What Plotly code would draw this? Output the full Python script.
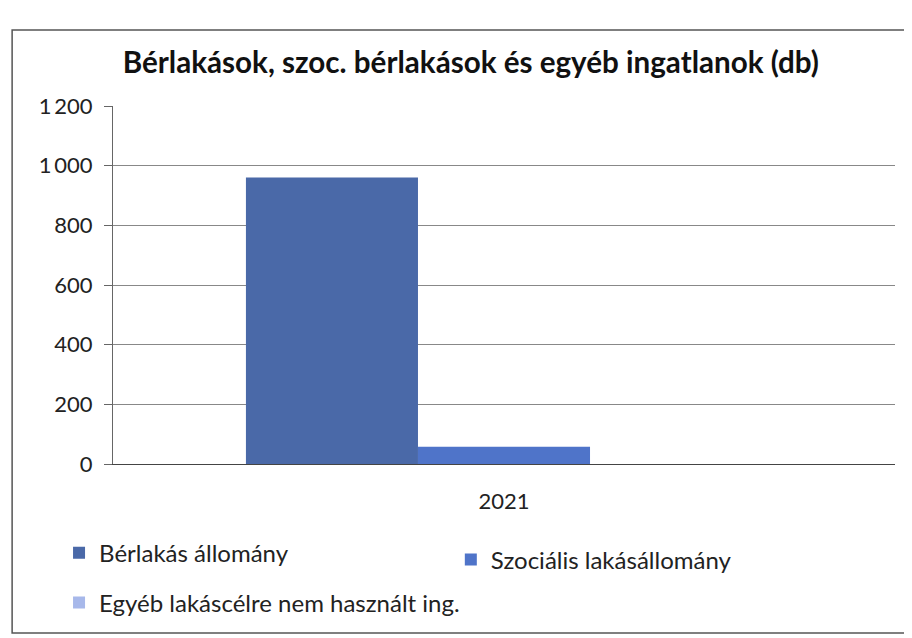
import plotly.graph_objects as go

categories = ["2021"]
series_names = ["Bérlakás állomány", "Szociális lakásállomány", "Egyéb lakáscélre nem használt ing."]
berlakas = [960]
szocialis = [58]
egyeb = [0]
y_ticks = [0, 200, 400, 600, 800, 1000, 1200]
y_tick_labels = ["0", "200", "400", "600", "800", "1\u2009000", "1\u2009200"]

colors = ["#4a69a8", "#4f74c9", "#a7b8ea"]
legends = ["legend", "legend2", "legend3"]
font_family = "Lato, 'Open Sans', sans-serif"

fig = go.Figure()
for name, vals, col, lg in zip(series_names, [berlakas, szocialis, egyeb], colors, legends):
    fig.add_trace(go.Bar(x=categories, y=vals, name=name, marker_color=col,
                         marker_line_width=0, legend=lg, showlegend=True))

leg_font = dict(family=font_family, size=24, color="#222")
def leg(x, y):
    return dict(x=x, y=y, xanchor="left", yanchor="middle", bgcolor="rgba(0,0,0,0)",
                font=leg_font, itemwidth=30, visible=True)

fig.update_layout(
    width=904, height=630,
    showlegend=True,
    paper_bgcolor="white", plot_bgcolor="white",
    barmode="group", bargap=0.34, bargroupgap=0,
    margin=dict(l=105, r=17, t=98, b=174),
    title=dict(text="<b>Bérlakások, szoc. bérlakások és egyéb ingatlanok (db)</b>",
               xref="container", x=0.512, xanchor="center",
               yref="container", y=0.914, yanchor="middle",
               font=dict(family=font_family, size=29.6, color="#111")),
    font=dict(family=font_family, size=22, color="#222"),
    legend=leg(-0.069, -0.249),
    legend2=leg(0.432, -0.268),
    legend3=leg(-0.069, -0.388),
    shapes=[dict(type="rect", xref="paper", yref="paper", x0=-0.129, x1=1.013,
                 y0=-0.472, y1=1.212, line=dict(color="#555", width=1.5))],
)
fig.update_yaxes(range=[0, 1200], tickvals=y_ticks, ticktext=y_tick_labels,
                 showgrid=True, gridcolor="#888", gridwidth=1,
                 showline=True, linecolor="#666", ticks="outside", ticklen=8,
                 tickcolor="#666", zeroline=False, ticklabelstandoff=7,
                 tickfont=dict(size=22))
fig.update_xaxes(showline=True, linecolor="#444", ticks="", showgrid=False,
                 tickfont=dict(size=22), ticklabelstandoff=18)

fig.write_html("out.html")
